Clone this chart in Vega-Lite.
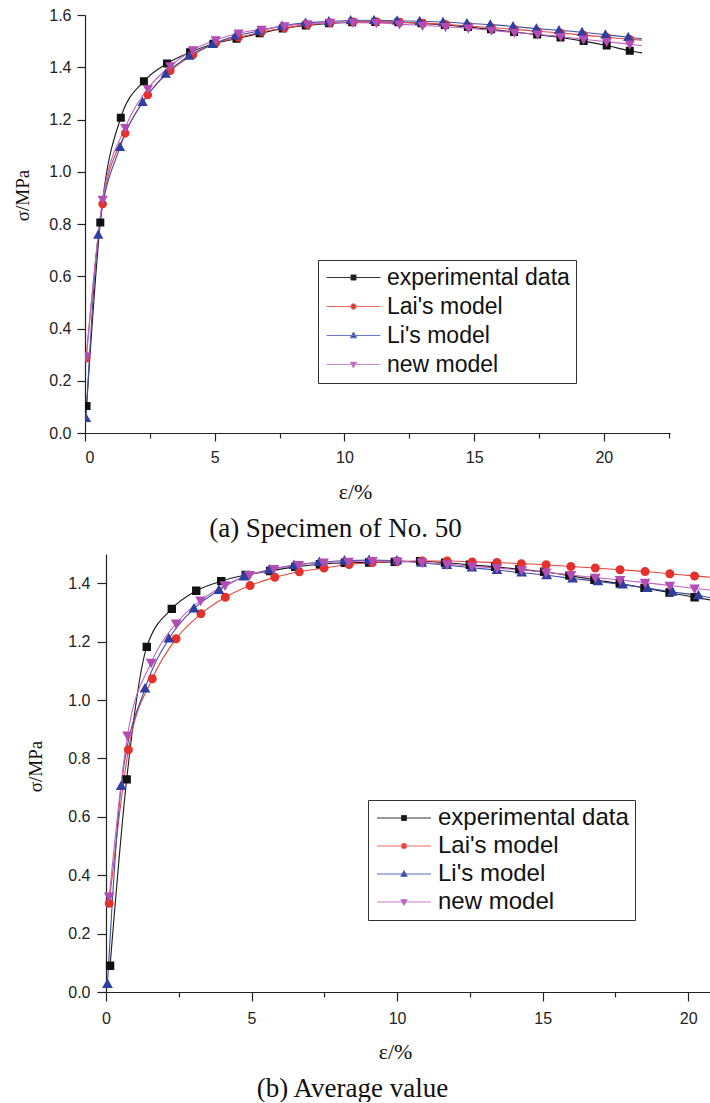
{
  "$schema": "https://vega.github.io/schema/vega-lite/v6.json",
  "padding": {"left": 13, "top": 7, "right": 0, "bottom": 0},
  "background": "white",
  "config": {
    "view": {"stroke": null},
    "axis": {
      "grid": false,
      "domainColor": "#222222",
      "domainWidth": 1.2,
      "tickColor": "#222222",
      "tickWidth": 1.2,
      "labelFont": "Liberation Sans",
      "labelFontSize": 16,
      "labelColor": "#222222",
      "titleFont": "Liberation Serif",
      "titleFontWeight": "normal",
      "titleColor": "#111111"
    }
  },
  "datasets": {
    "aPts": [
      {"series": "experimental data", "x": 0.06, "y": 0.103}, {"series": "experimental data", "x": 0.59, "y": 0.806}, {"series": "experimental data", "x": 1.38, "y": 1.207}, {"series": "experimental data", "x": 2.27, "y": 1.346}, {"series": "experimental data", "x": 3.16, "y": 1.414}, {"series": "experimental data", "x": 4.05, "y": 1.457}, {"series": "experimental data", "x": 4.95, "y": 1.49}, {"series": "experimental data", "x": 5.84, "y": 1.509}, {"series": "experimental data", "x": 6.73, "y": 1.53}, {"series": "experimental data", "x": 7.62, "y": 1.548}, {"series": "experimental data", "x": 8.51, "y": 1.56}, {"series": "experimental data", "x": 9.41, "y": 1.568}, {"series": "experimental data", "x": 10.3, "y": 1.572}, {"series": "experimental data", "x": 11.19, "y": 1.573}, {"series": "experimental data", "x": 12.08, "y": 1.572}, {"series": "experimental data", "x": 12.97, "y": 1.568}, {"series": "experimental data", "x": 13.87, "y": 1.562}, {"series": "experimental data", "x": 14.76, "y": 1.554}, {"series": "experimental data", "x": 15.65, "y": 1.545}, {"series": "experimental data", "x": 16.54, "y": 1.535}, {"series": "experimental data", "x": 17.43, "y": 1.525}, {"series": "experimental data", "x": 18.33, "y": 1.514}, {"series": "experimental data", "x": 19.22, "y": 1.5}, {"series": "experimental data", "x": 20.11, "y": 1.483}, {"series": "experimental data", "x": 21.0, "y": 1.463},
      {"series": "Lai's model", "x": 0.04, "y": 0.286}, {"series": "Lai's model", "x": 0.68, "y": 0.877}, {"series": "Lai's model", "x": 1.55, "y": 1.147}, {"series": "Lai's model", "x": 2.42, "y": 1.294}, {"series": "Lai's model", "x": 3.29, "y": 1.387}, {"series": "Lai's model", "x": 4.16, "y": 1.447}, {"series": "Lai's model", "x": 5.04, "y": 1.492}, {"series": "Lai's model", "x": 5.92, "y": 1.514}, {"series": "Lai's model", "x": 6.81, "y": 1.535}, {"series": "Lai's model", "x": 7.69, "y": 1.55}, {"series": "Lai's model", "x": 8.58, "y": 1.563}, {"series": "Lai's model", "x": 9.46, "y": 1.57}, {"series": "Lai's model", "x": 10.34, "y": 1.574}, {"series": "Lai's model", "x": 11.23, "y": 1.575}, {"series": "Lai's model", "x": 12.12, "y": 1.573}, {"series": "Lai's model", "x": 13.01, "y": 1.569}, {"series": "Lai's model", "x": 13.9, "y": 1.564}, {"series": "Lai's model", "x": 14.78, "y": 1.558}, {"series": "Lai's model", "x": 15.67, "y": 1.552}, {"series": "Lai's model", "x": 16.56, "y": 1.545}, {"series": "Lai's model", "x": 17.45, "y": 1.538}, {"series": "Lai's model", "x": 18.34, "y": 1.531}, {"series": "Lai's model", "x": 19.22, "y": 1.523}, {"series": "Lai's model", "x": 20.11, "y": 1.515}, {"series": "Lai's model", "x": 21.0, "y": 1.507},
      {"series": "Li's model", "x": 0.04, "y": 0.056}, {"series": "Li's model", "x": 0.51, "y": 0.758}, {"series": "Li's model", "x": 1.35, "y": 1.094}, {"series": "Li's model", "x": 2.22, "y": 1.266}, {"series": "Li's model", "x": 3.11, "y": 1.374}, {"series": "Li's model", "x": 4.01, "y": 1.443}, {"series": "Li's model", "x": 4.92, "y": 1.488}, {"series": "Li's model", "x": 5.81, "y": 1.52}, {"series": "Li's model", "x": 6.7, "y": 1.539}, {"series": "Li's model", "x": 7.6, "y": 1.558}, {"series": "Li's model", "x": 8.5, "y": 1.57}, {"series": "Li's model", "x": 9.4, "y": 1.575}, {"series": "Li's model", "x": 10.24, "y": 1.579}, {"series": "Li's model", "x": 11.14, "y": 1.58}, {"series": "Li's model", "x": 12.03, "y": 1.578}, {"series": "Li's model", "x": 12.9, "y": 1.576}, {"series": "Li's model", "x": 13.8, "y": 1.573}, {"series": "Li's model", "x": 14.72, "y": 1.568}, {"series": "Li's model", "x": 15.62, "y": 1.563}, {"series": "Li's model", "x": 16.5, "y": 1.556}, {"series": "Li's model", "x": 17.4, "y": 1.548}, {"series": "Li's model", "x": 18.27, "y": 1.541}, {"series": "Li's model", "x": 19.16, "y": 1.534}, {"series": "Li's model", "x": 20.06, "y": 1.525}, {"series": "Li's model", "x": 20.94, "y": 1.515},
      {"series": "new model", "x": 0.06, "y": 0.295}, {"series": "new model", "x": 0.68, "y": 0.894}, {"series": "new model", "x": 1.55, "y": 1.169}, {"series": "new model", "x": 2.42, "y": 1.318}, {"series": "new model", "x": 3.29, "y": 1.405}, {"series": "new model", "x": 4.16, "y": 1.466}, {"series": "new model", "x": 5.04, "y": 1.504}, {"series": "new model", "x": 5.92, "y": 1.53}, {"series": "new model", "x": 6.81, "y": 1.545}, {"series": "new model", "x": 7.69, "y": 1.558}, {"series": "new model", "x": 8.58, "y": 1.566}, {"series": "new model", "x": 9.46, "y": 1.571}, {"series": "new model", "x": 10.34, "y": 1.571}, {"series": "new model", "x": 11.23, "y": 1.57}, {"series": "new model", "x": 12.12, "y": 1.565}, {"series": "new model", "x": 13.01, "y": 1.56}, {"series": "new model", "x": 13.9, "y": 1.555}, {"series": "new model", "x": 14.78, "y": 1.549}, {"series": "new model", "x": 15.67, "y": 1.541}, {"series": "new model", "x": 16.56, "y": 1.533}, {"series": "new model", "x": 17.45, "y": 1.526}, {"series": "new model", "x": 18.34, "y": 1.517}, {"series": "new model", "x": 19.22, "y": 1.507}, {"series": "new model", "x": 20.11, "y": 1.498}, {"series": "new model", "x": 21.0, "y": 1.488}
    ],
    "aLine": [
      {"series": "experimental data", "x": 0.06, "y": 0.103}, {"series": "experimental data", "x": 0.59, "y": 0.806}, {"series": "experimental data", "x": 1.38, "y": 1.207}, {"series": "experimental data", "x": 2.27, "y": 1.346}, {"series": "experimental data", "x": 3.16, "y": 1.414}, {"series": "experimental data", "x": 4.05, "y": 1.457}, {"series": "experimental data", "x": 4.95, "y": 1.49}, {"series": "experimental data", "x": 5.84, "y": 1.509}, {"series": "experimental data", "x": 6.73, "y": 1.53}, {"series": "experimental data", "x": 7.62, "y": 1.548}, {"series": "experimental data", "x": 8.51, "y": 1.56}, {"series": "experimental data", "x": 9.41, "y": 1.568}, {"series": "experimental data", "x": 10.3, "y": 1.572}, {"series": "experimental data", "x": 11.19, "y": 1.573}, {"series": "experimental data", "x": 12.08, "y": 1.572}, {"series": "experimental data", "x": 12.97, "y": 1.568}, {"series": "experimental data", "x": 13.87, "y": 1.562}, {"series": "experimental data", "x": 14.76, "y": 1.554}, {"series": "experimental data", "x": 15.65, "y": 1.545}, {"series": "experimental data", "x": 16.54, "y": 1.535}, {"series": "experimental data", "x": 17.43, "y": 1.525}, {"series": "experimental data", "x": 18.33, "y": 1.514}, {"series": "experimental data", "x": 19.22, "y": 1.5}, {"series": "experimental data", "x": 20.11, "y": 1.483}, {"series": "experimental data", "x": 21.0, "y": 1.463}, {"series": "experimental data", "x": 21.47, "y": 1.455},
      {"series": "Lai's model", "x": 0.04, "y": 0.286}, {"series": "Lai's model", "x": 0.68, "y": 0.877}, {"series": "Lai's model", "x": 1.55, "y": 1.147}, {"series": "Lai's model", "x": 2.42, "y": 1.294}, {"series": "Lai's model", "x": 3.29, "y": 1.387}, {"series": "Lai's model", "x": 4.16, "y": 1.447}, {"series": "Lai's model", "x": 5.04, "y": 1.492}, {"series": "Lai's model", "x": 5.92, "y": 1.514}, {"series": "Lai's model", "x": 6.81, "y": 1.535}, {"series": "Lai's model", "x": 7.69, "y": 1.55}, {"series": "Lai's model", "x": 8.58, "y": 1.563}, {"series": "Lai's model", "x": 9.46, "y": 1.57}, {"series": "Lai's model", "x": 10.34, "y": 1.574}, {"series": "Lai's model", "x": 11.23, "y": 1.575}, {"series": "Lai's model", "x": 12.12, "y": 1.573}, {"series": "Lai's model", "x": 13.01, "y": 1.569}, {"series": "Lai's model", "x": 13.9, "y": 1.564}, {"series": "Lai's model", "x": 14.78, "y": 1.558}, {"series": "Lai's model", "x": 15.67, "y": 1.552}, {"series": "Lai's model", "x": 16.56, "y": 1.545}, {"series": "Lai's model", "x": 17.45, "y": 1.538}, {"series": "Lai's model", "x": 18.34, "y": 1.531}, {"series": "Lai's model", "x": 19.22, "y": 1.523}, {"series": "Lai's model", "x": 20.11, "y": 1.515}, {"series": "Lai's model", "x": 21.0, "y": 1.507}, {"series": "Lai's model", "x": 21.47, "y": 1.504},
      {"series": "Li's model", "x": 0.04, "y": 0.056}, {"series": "Li's model", "x": 0.51, "y": 0.758}, {"series": "Li's model", "x": 1.35, "y": 1.094}, {"series": "Li's model", "x": 2.22, "y": 1.266}, {"series": "Li's model", "x": 3.11, "y": 1.374}, {"series": "Li's model", "x": 4.01, "y": 1.443}, {"series": "Li's model", "x": 4.92, "y": 1.488}, {"series": "Li's model", "x": 5.81, "y": 1.52}, {"series": "Li's model", "x": 6.7, "y": 1.539}, {"series": "Li's model", "x": 7.6, "y": 1.558}, {"series": "Li's model", "x": 8.5, "y": 1.57}, {"series": "Li's model", "x": 9.4, "y": 1.575}, {"series": "Li's model", "x": 10.24, "y": 1.579}, {"series": "Li's model", "x": 11.14, "y": 1.58}, {"series": "Li's model", "x": 12.03, "y": 1.578}, {"series": "Li's model", "x": 12.9, "y": 1.576}, {"series": "Li's model", "x": 13.8, "y": 1.573}, {"series": "Li's model", "x": 14.72, "y": 1.568}, {"series": "Li's model", "x": 15.62, "y": 1.563}, {"series": "Li's model", "x": 16.5, "y": 1.556}, {"series": "Li's model", "x": 17.4, "y": 1.548}, {"series": "Li's model", "x": 18.27, "y": 1.541}, {"series": "Li's model", "x": 19.16, "y": 1.534}, {"series": "Li's model", "x": 20.06, "y": 1.525}, {"series": "Li's model", "x": 20.94, "y": 1.515}, {"series": "Li's model", "x": 21.47, "y": 1.509},
      {"series": "new model", "x": 0.06, "y": 0.295}, {"series": "new model", "x": 0.68, "y": 0.894}, {"series": "new model", "x": 1.55, "y": 1.169}, {"series": "new model", "x": 2.42, "y": 1.318}, {"series": "new model", "x": 3.29, "y": 1.405}, {"series": "new model", "x": 4.16, "y": 1.466}, {"series": "new model", "x": 5.04, "y": 1.504}, {"series": "new model", "x": 5.92, "y": 1.53}, {"series": "new model", "x": 6.81, "y": 1.545}, {"series": "new model", "x": 7.69, "y": 1.558}, {"series": "new model", "x": 8.58, "y": 1.566}, {"series": "new model", "x": 9.46, "y": 1.571}, {"series": "new model", "x": 10.34, "y": 1.571}, {"series": "new model", "x": 11.23, "y": 1.57}, {"series": "new model", "x": 12.12, "y": 1.565}, {"series": "new model", "x": 13.01, "y": 1.56}, {"series": "new model", "x": 13.9, "y": 1.555}, {"series": "new model", "x": 14.78, "y": 1.549}, {"series": "new model", "x": 15.67, "y": 1.541}, {"series": "new model", "x": 16.56, "y": 1.533}, {"series": "new model", "x": 17.45, "y": 1.526}, {"series": "new model", "x": 18.34, "y": 1.517}, {"series": "new model", "x": 19.22, "y": 1.507}, {"series": "new model", "x": 20.11, "y": 1.498}, {"series": "new model", "x": 21.0, "y": 1.488}, {"series": "new model", "x": 21.47, "y": 1.482}
    ],
    "bPts": [
      {"series": "experimental data", "x": 0.14, "y": 0.09}, {"series": "experimental data", "x": 0.71, "y": 0.728}, {"series": "experimental data", "x": 1.4, "y": 1.182}, {"series": "experimental data", "x": 2.26, "y": 1.312}, {"series": "experimental data", "x": 3.1, "y": 1.374}, {"series": "experimental data", "x": 3.96, "y": 1.407}, {"series": "experimental data", "x": 4.8, "y": 1.428}, {"series": "experimental data", "x": 5.64, "y": 1.442}, {"series": "experimental data", "x": 6.5, "y": 1.456}, {"series": "experimental data", "x": 7.35, "y": 1.465}, {"series": "experimental data", "x": 8.21, "y": 1.47}, {"series": "experimental data", "x": 9.04, "y": 1.471}, {"series": "experimental data", "x": 9.92, "y": 1.473}, {"series": "experimental data", "x": 10.79, "y": 1.475}, {"series": "experimental data", "x": 11.65, "y": 1.47}, {"series": "experimental data", "x": 12.5, "y": 1.463}, {"series": "experimental data", "x": 13.37, "y": 1.456}, {"series": "experimental data", "x": 14.2, "y": 1.448}, {"series": "experimental data", "x": 15.05, "y": 1.439}, {"series": "experimental data", "x": 15.92, "y": 1.426}, {"series": "experimental data", "x": 16.78, "y": 1.412}, {"series": "experimental data", "x": 17.65, "y": 1.399}, {"series": "experimental data", "x": 18.5, "y": 1.384}, {"series": "experimental data", "x": 19.36, "y": 1.368}, {"series": "experimental data", "x": 20.22, "y": 1.352},
      {"series": "Lai's model", "x": 0.11, "y": 0.304}, {"series": "Lai's model", "x": 0.77, "y": 0.83}, {"series": "Lai's model", "x": 1.59, "y": 1.073}, {"series": "Lai's model", "x": 2.41, "y": 1.21}, {"series": "Lai's model", "x": 3.26, "y": 1.295}, {"series": "Lai's model", "x": 4.1, "y": 1.352}, {"series": "Lai's model", "x": 4.95, "y": 1.392}, {"series": "Lai's model", "x": 5.8, "y": 1.42}, {"series": "Lai's model", "x": 6.64, "y": 1.439}, {"series": "Lai's model", "x": 7.49, "y": 1.452}, {"series": "Lai's model", "x": 8.35, "y": 1.464}, {"series": "Lai's model", "x": 9.15, "y": 1.471}, {"series": "Lai's model", "x": 10.01, "y": 1.475}, {"series": "Lai's model", "x": 10.86, "y": 1.476}, {"series": "Lai's model", "x": 11.72, "y": 1.476}, {"series": "Lai's model", "x": 12.58, "y": 1.473}, {"series": "Lai's model", "x": 13.43, "y": 1.471}, {"series": "Lai's model", "x": 14.27, "y": 1.467}, {"series": "Lai's model", "x": 15.12, "y": 1.463}, {"series": "Lai's model", "x": 15.97, "y": 1.457}, {"series": "Lai's model", "x": 16.81, "y": 1.452}, {"series": "Lai's model", "x": 17.66, "y": 1.446}, {"series": "Lai's model", "x": 18.52, "y": 1.44}, {"series": "Lai's model", "x": 19.37, "y": 1.432}, {"series": "Lai's model", "x": 20.22, "y": 1.425},
      {"series": "Li's model", "x": 0.05, "y": 0.027}, {"series": "Li's model", "x": 0.52, "y": 0.705}, {"series": "Li's model", "x": 1.34, "y": 1.039}, {"series": "Li's model", "x": 2.16, "y": 1.21}, {"series": "Li's model", "x": 3.02, "y": 1.313}, {"series": "Li's model", "x": 3.88, "y": 1.376}, {"series": "Li's model", "x": 4.74, "y": 1.423}, {"series": "Li's model", "x": 5.61, "y": 1.446}, {"series": "Li's model", "x": 6.46, "y": 1.462}, {"series": "Li's model", "x": 7.33, "y": 1.472}, {"series": "Li's model", "x": 8.19, "y": 1.477}, {"series": "Li's model", "x": 9.04, "y": 1.479}, {"series": "Li's model", "x": 9.99, "y": 1.477}, {"series": "Li's model", "x": 10.85, "y": 1.47}, {"series": "Li's model", "x": 11.71, "y": 1.462}, {"series": "Li's model", "x": 12.57, "y": 1.453}, {"series": "Li's model", "x": 13.43, "y": 1.445}, {"series": "Li's model", "x": 14.28, "y": 1.436}, {"series": "Li's model", "x": 15.14, "y": 1.427}, {"series": "Li's model", "x": 16.03, "y": 1.416}, {"series": "Li's model", "x": 16.9, "y": 1.406}, {"series": "Li's model", "x": 17.75, "y": 1.395}, {"series": "Li's model", "x": 18.6, "y": 1.383}, {"series": "Li's model", "x": 19.46, "y": 1.37}, {"series": "Li's model", "x": 20.35, "y": 1.358},
      {"series": "new model", "x": 0.11, "y": 0.327}, {"series": "new model", "x": 0.74, "y": 0.879}, {"series": "new model", "x": 1.55, "y": 1.128}, {"series": "new model", "x": 2.41, "y": 1.262}, {"series": "new model", "x": 3.25, "y": 1.341}, {"series": "new model", "x": 4.09, "y": 1.393}, {"series": "new model", "x": 4.93, "y": 1.428}, {"series": "new model", "x": 5.77, "y": 1.449}, {"series": "new model", "x": 6.62, "y": 1.463}, {"series": "new model", "x": 7.47, "y": 1.471}, {"series": "new model", "x": 8.33, "y": 1.474}, {"series": "new model", "x": 9.15, "y": 1.476}, {"series": "new model", "x": 10.01, "y": 1.475}, {"series": "new model", "x": 10.86, "y": 1.471}, {"series": "new model", "x": 11.72, "y": 1.465}, {"series": "new model", "x": 12.57, "y": 1.458}, {"series": "new model", "x": 13.43, "y": 1.452}, {"series": "new model", "x": 14.28, "y": 1.445}, {"series": "new model", "x": 15.12, "y": 1.437}, {"series": "new model", "x": 15.97, "y": 1.428}, {"series": "new model", "x": 16.81, "y": 1.419}, {"series": "new model", "x": 17.66, "y": 1.411}, {"series": "new model", "x": 18.52, "y": 1.402}, {"series": "new model", "x": 19.37, "y": 1.392}, {"series": "new model", "x": 20.22, "y": 1.382}
    ],
    "bLine": [
      {"series": "experimental data", "x": 0.14, "y": 0.09}, {"series": "experimental data", "x": 0.71, "y": 0.728}, {"series": "experimental data", "x": 1.4, "y": 1.182}, {"series": "experimental data", "x": 2.26, "y": 1.312}, {"series": "experimental data", "x": 3.1, "y": 1.374}, {"series": "experimental data", "x": 3.96, "y": 1.407}, {"series": "experimental data", "x": 4.8, "y": 1.428}, {"series": "experimental data", "x": 5.64, "y": 1.442}, {"series": "experimental data", "x": 6.5, "y": 1.456}, {"series": "experimental data", "x": 7.35, "y": 1.465}, {"series": "experimental data", "x": 8.21, "y": 1.47}, {"series": "experimental data", "x": 9.04, "y": 1.471}, {"series": "experimental data", "x": 9.92, "y": 1.473}, {"series": "experimental data", "x": 10.79, "y": 1.475}, {"series": "experimental data", "x": 11.65, "y": 1.47}, {"series": "experimental data", "x": 12.5, "y": 1.463}, {"series": "experimental data", "x": 13.37, "y": 1.456}, {"series": "experimental data", "x": 14.2, "y": 1.448}, {"series": "experimental data", "x": 15.05, "y": 1.439}, {"series": "experimental data", "x": 15.92, "y": 1.426}, {"series": "experimental data", "x": 16.78, "y": 1.412}, {"series": "experimental data", "x": 17.65, "y": 1.399}, {"series": "experimental data", "x": 18.5, "y": 1.384}, {"series": "experimental data", "x": 19.36, "y": 1.368}, {"series": "experimental data", "x": 20.22, "y": 1.352}, {"series": "experimental data", "x": 20.8, "y": 1.342},
      {"series": "Lai's model", "x": 0.11, "y": 0.304}, {"series": "Lai's model", "x": 0.77, "y": 0.83}, {"series": "Lai's model", "x": 1.59, "y": 1.073}, {"series": "Lai's model", "x": 2.41, "y": 1.21}, {"series": "Lai's model", "x": 3.26, "y": 1.295}, {"series": "Lai's model", "x": 4.1, "y": 1.352}, {"series": "Lai's model", "x": 4.95, "y": 1.392}, {"series": "Lai's model", "x": 5.8, "y": 1.42}, {"series": "Lai's model", "x": 6.64, "y": 1.439}, {"series": "Lai's model", "x": 7.49, "y": 1.452}, {"series": "Lai's model", "x": 8.35, "y": 1.464}, {"series": "Lai's model", "x": 9.15, "y": 1.471}, {"series": "Lai's model", "x": 10.01, "y": 1.475}, {"series": "Lai's model", "x": 10.86, "y": 1.476}, {"series": "Lai's model", "x": 11.72, "y": 1.476}, {"series": "Lai's model", "x": 12.58, "y": 1.473}, {"series": "Lai's model", "x": 13.43, "y": 1.471}, {"series": "Lai's model", "x": 14.27, "y": 1.467}, {"series": "Lai's model", "x": 15.12, "y": 1.463}, {"series": "Lai's model", "x": 15.97, "y": 1.457}, {"series": "Lai's model", "x": 16.81, "y": 1.452}, {"series": "Lai's model", "x": 17.66, "y": 1.446}, {"series": "Lai's model", "x": 18.52, "y": 1.44}, {"series": "Lai's model", "x": 19.37, "y": 1.432}, {"series": "Lai's model", "x": 20.22, "y": 1.425}, {"series": "Lai's model", "x": 20.8, "y": 1.42},
      {"series": "Li's model", "x": 0.05, "y": 0.027}, {"series": "Li's model", "x": 0.52, "y": 0.705}, {"series": "Li's model", "x": 1.34, "y": 1.039}, {"series": "Li's model", "x": 2.16, "y": 1.21}, {"series": "Li's model", "x": 3.02, "y": 1.313}, {"series": "Li's model", "x": 3.88, "y": 1.376}, {"series": "Li's model", "x": 4.74, "y": 1.423}, {"series": "Li's model", "x": 5.61, "y": 1.446}, {"series": "Li's model", "x": 6.46, "y": 1.462}, {"series": "Li's model", "x": 7.33, "y": 1.472}, {"series": "Li's model", "x": 8.19, "y": 1.477}, {"series": "Li's model", "x": 9.04, "y": 1.479}, {"series": "Li's model", "x": 9.99, "y": 1.477}, {"series": "Li's model", "x": 10.85, "y": 1.47}, {"series": "Li's model", "x": 11.71, "y": 1.462}, {"series": "Li's model", "x": 12.57, "y": 1.453}, {"series": "Li's model", "x": 13.43, "y": 1.445}, {"series": "Li's model", "x": 14.28, "y": 1.436}, {"series": "Li's model", "x": 15.14, "y": 1.427}, {"series": "Li's model", "x": 16.03, "y": 1.416}, {"series": "Li's model", "x": 16.9, "y": 1.406}, {"series": "Li's model", "x": 17.75, "y": 1.395}, {"series": "Li's model", "x": 18.6, "y": 1.383}, {"series": "Li's model", "x": 19.46, "y": 1.37}, {"series": "Li's model", "x": 20.35, "y": 1.358}, {"series": "Li's model", "x": 20.8, "y": 1.35},
      {"series": "new model", "x": 0.11, "y": 0.327}, {"series": "new model", "x": 0.74, "y": 0.879}, {"series": "new model", "x": 1.55, "y": 1.128}, {"series": "new model", "x": 2.41, "y": 1.262}, {"series": "new model", "x": 3.25, "y": 1.341}, {"series": "new model", "x": 4.09, "y": 1.393}, {"series": "new model", "x": 4.93, "y": 1.428}, {"series": "new model", "x": 5.77, "y": 1.449}, {"series": "new model", "x": 6.62, "y": 1.463}, {"series": "new model", "x": 7.47, "y": 1.471}, {"series": "new model", "x": 8.33, "y": 1.474}, {"series": "new model", "x": 9.15, "y": 1.476}, {"series": "new model", "x": 10.01, "y": 1.475}, {"series": "new model", "x": 10.86, "y": 1.471}, {"series": "new model", "x": 11.72, "y": 1.465}, {"series": "new model", "x": 12.57, "y": 1.458}, {"series": "new model", "x": 13.43, "y": 1.452}, {"series": "new model", "x": 14.28, "y": 1.445}, {"series": "new model", "x": 15.12, "y": 1.437}, {"series": "new model", "x": 15.97, "y": 1.428}, {"series": "new model", "x": 16.81, "y": 1.419}, {"series": "new model", "x": 17.66, "y": 1.411}, {"series": "new model", "x": 18.52, "y": 1.402}, {"series": "new model", "x": 19.37, "y": 1.392}, {"series": "new model", "x": 20.22, "y": 1.382}, {"series": "new model", "x": 20.8, "y": 1.376}
    ]
  },
  "vconcat": [
    {
      "width": 585,
      "height": 418,
      "title": {"text": "(a) Specimen of No. 50", "orient": "bottom", "anchor": "middle", "frame": "group", "dx": -42, "offset": 14, "font": "Liberation Serif", "fontSize": 27, "fontWeight": "normal", "color": "#111111"},
      "layer": [
        {
          "data": {"name": "aLine"},
          "mark": {"type": "line", "interpolate": "monotone", "strokeWidth": 1.1, "clip": true},
          "encoding": {
            "x": {"field": "x", "type": "quantitative", "scale": {"domain": [0, 22.55], "nice": false},
              "axis": {"title": "ε/%", "titleFontSize": 22, "titleX": 270, "titleY": 58, "titleBaseline": "middle", "titleAlign": "center",
                "values": [0, 2.5, 5, 7.5, 10, 12.5, 15, 17.5, 20, 22.5], "format": "d", "labelExpr": "datum.value % 5 === 0 ? datum.label : ''",
                "tickSize": {"condition": {"test": "datum.value % 5 === 0", "value": 8}, "value": 5}, "labelPadding": 8}},
            "y": {"field": "y", "type": "quantitative", "scale": {"domain": [0, 1.6], "nice": false},
              "axis": {"title": "σ/MPa", "titleFontSize": 19, "titleX": -63, "titleY": 180, "titleBaseline": "middle", "titleAlign": "center", "titleAngle": -90,
                "values": [0, 0.1, 0.2, 0.3, 0.4, 0.5, 0.6, 0.7, 0.8, 0.9, 1.0, 1.1, 1.2, 1.3, 1.4, 1.5, 1.6], "labelExpr": "round(datum.value * 10) % 2 === 0 ? format(datum.value, '.1f') : ''",
                "tickSize": {"condition": {"test": "round(datum.value * 10) % 2 === 0", "value": 8}, "value": 5}, "labelPadding": 6}},
            "stroke": {"field": "series", "type": "nominal", "scale": {"range": ["#e8453c", "#3d4fa8", "#1a1a1a", "#c262c2"]}, "legend": null}
          }
        },
        {
          "data": {"name": "aPts"},
          "mark": {"type": "point", "filled": true, "opacity": 1, "clip": true, "size": 816},
          "encoding": {
            "x": {"field": "x", "type": "quantitative"},
            "y": {"field": "y", "type": "quantitative"},
            "shape": {"field": "series", "type": "nominal", "scale": {"domain": ["experimental data", "Lai's model", "Li's model", "new model"], "range": ["M-3,0H3M-0.28,-0.28H0.28V0.28H-0.28Z", "M-3,0H3M0.3,0A0.3,0.3,0,1,1,-0.3,0A0.3,0.3,0,1,1,0.3,0Z", "M-3,0H3M0,-0.38L0.36,0.26H-0.36Z", "M-3,0H3M0,0.38L0.36,-0.26H-0.36Z"]}},
            "color": {"field": "series", "type": "nominal", "scale": {"domain": ["experimental data", "Lai's model", "Li's model", "new model"], "range": ["#111111", "#e4312b", "#2e3f9f", "#b34db5"]},
              "legend": {"title": null, "orient": "none", "legendX": 233, "legendY": 245, "strokeColor": "#333333", "fillColor": "white", "padding": 6,
                "labelFont": "Liberation Sans", "labelFontSize": 23, "labelColor": "#111111", "labelLimit": 400, "symbolSize": 324, "symbolOffset": 18, "labelOffset": 22, "rowPadding": 5,
                "symbolStrokeWidth": 1, "symbolStrokeColor": {"expr": "['#333333','#ee6a60','#6a78c4','#cf88cf'][datum.index]"}}}
          }
        }
      ]
    },
    {
      "width": 625,
      "height": 438,
      "title": {"text": "(b) Average value", "orient": "bottom", "anchor": "middle", "frame": "group", "dx": -45, "offset": 14, "font": "Liberation Serif", "fontSize": 27, "fontWeight": "normal", "color": "#111111"},
      "layer": [
        {
          "data": {"name": "bLine"},
          "mark": {"type": "line", "interpolate": "monotone", "strokeWidth": 1.1, "clip": true},
          "encoding": {
            "x": {"field": "x", "type": "quantitative", "scale": {"domain": [-0.7216, 20.75], "nice": false, "zero": false},
              "axis": {"title": "ε/%", "titleFontSize": 22, "titleX": 310, "titleY": 59, "titleBaseline": "middle", "titleAlign": "center", "domain": true, "domainDash": [0, 21, 604],
                "values": [0, 2.5, 5, 7.5, 10, 12.5, 15, 17.5, 20], "format": "d", "labelExpr": "datum.value % 5 === 0 ? datum.label : ''",
                "tickSize": {"condition": {"test": "datum.value % 5 === 0", "value": 9}, "value": 5}, "labelPadding": 9}},
            "y": {"field": "y", "type": "quantitative", "scale": {"domain": [0, 1.5], "nice": false},
              "axis": {"title": "σ/MPa", "titleFontSize": 19, "titleX": -71, "titleY": 212, "titleBaseline": "middle", "titleAlign": "center", "titleAngle": -90, "offset": -21,
                "values": [0, 0.1, 0.2, 0.3, 0.4, 0.5, 0.6, 0.7, 0.8, 0.9, 1.0, 1.1, 1.2, 1.3, 1.4, 1.5], "labelExpr": "round(datum.value * 10) % 2 === 0 ? format(datum.value, '.1f') : ''",
                "tickSize": {"condition": {"test": "round(datum.value * 10) % 2 === 0", "value": 9}, "value": 5}, "labelPadding": 7}},
            "stroke": {"field": "series", "type": "nominal", "scale": {"range": ["#e8453c", "#3d4fa8", "#1a1a1a", "#c262c2"]}, "legend": null}
          }
        },
        {
          "data": {"name": "bPts"},
          "mark": {"type": "point", "filled": true, "opacity": 1, "clip": true, "size": 900},
          "encoding": {
            "x": {"field": "x", "type": "quantitative"},
            "y": {"field": "y", "type": "quantitative"},
            "shape": {"field": "series", "type": "nominal", "scale": {"domain": ["experimental data", "Lai's model", "Li's model", "new model"], "range": ["M-3,0H3M-0.28,-0.28H0.28V0.28H-0.28Z", "M-3,0H3M0.3,0A0.3,0.3,0,1,1,-0.3,0A0.3,0.3,0,1,1,0.3,0Z", "M-3,0H3M0,-0.38L0.36,0.26H-0.36Z", "M-3,0H3M0,0.38L0.36,-0.26H-0.36Z"]}},
            "color": {"field": "series", "type": "nominal", "scale": {"domain": ["experimental data", "Lai's model", "Li's model", "new model"], "range": ["#111111", "#e4312b", "#2e3f9f", "#b34db5"]},
              "legend": {"title": null, "orient": "none", "legendX": 283, "legendY": 246, "strokeColor": "#333333", "fillColor": "white", "padding": 6,
                "labelFont": "Liberation Sans", "labelFontSize": 24, "labelColor": "#111111", "labelLimit": 400, "symbolSize": 324, "symbolOffset": 18, "labelOffset": 22, "rowPadding": 4,
                "symbolStrokeWidth": 1, "symbolStrokeColor": {"expr": "['#333333','#ee6a60','#5a68b8','#c87ac8'][datum.index]"}}}
          }
        }
      ]
    }
  ],
  "spacing": 12,
  "resolve": {"scale": {"color": "independent", "shape": "independent", "stroke": "independent"}}
}
